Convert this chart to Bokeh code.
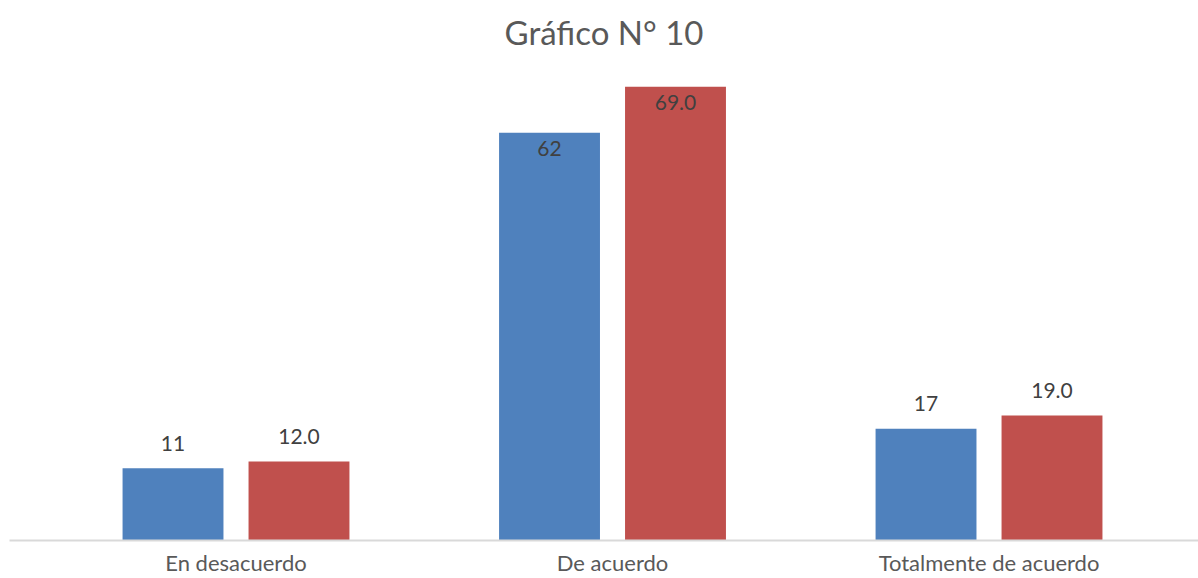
from bokeh.plotting import figure
from bokeh.models import ColumnDataSource, LabelSet, Range1d, FixedTicker
from bokeh.core.properties import value
from bokeh.embed import file_html
from bokeh.resources import INLINE

categories = ["En desacuerdo", "De acuerdo", "Totalmente de acuerdo"]
serie_azul = [11, 62, 17]
serie_roja = [12.0, 69.0, 19.0]
titulo = "Gráfico N° 10"

AZUL = "#4f81bd"
ROJO = "#c0504d"
FONT = "Lato"

xs = list(range(len(categories)))
offset = 0.1673
width = 0.268

p = figure(width=1198, height=578, output_backend="svg", toolbar_location=None,
           x_range=Range1d(-0.6016, 2.5564), y_range=Range1d(0, 73),
           min_border_left=9, min_border_right=0, min_border_bottom=38, min_border_top=0)
p.title.text = titulo
p.title.align = "center"
p.title.text_font = FONT
p.title.text_font_size = "33px"
p.title.text_font_style = "normal"
p.title.text_color = "#595959"
p.title.offset = 0
p.title.standoff = 18
p.title.text_line_height = 0.8

def lab_off(v):
    return -16 if v > 50 else 25

src_a = ColumnDataSource(dict(x=[x - offset for x in xs], top=serie_azul,
                              txt=[f"{v:.0f}" for v in serie_azul],
                              yo=[lab_off(v) for v in serie_azul]))
src_r = ColumnDataSource(dict(x=[x + offset for x in xs], top=serie_roja,
                              txt=[f"{v:.1f}" for v in serie_roja],
                              yo=[lab_off(v) for v in serie_roja]))

p.vbar(x="x", top="top", bottom=0, width=width, source=src_a, color=AZUL, line_color=None)
p.vbar(x="x", top="top", bottom=0, width=width, source=src_r, color=ROJO, line_color=None)

for s in (src_a, src_r):
    p.add_layout(LabelSet(x="x", y="top", text="txt", y_offset="yo", source=s,
                          text_align="center", text_baseline="middle",
                          text_font=value(FONT), text_font_size="21px", text_color="#404040"))

p.yaxis.visible = False
p.xgrid.visible = False
p.ygrid.visible = False
p.outline_line_color = None
ax = p.xaxis[0]
ax.ticker = FixedTicker(ticks=xs)
ax.major_label_overrides = {i: c for i, c in zip(xs, categories)}
ax.major_tick_line_color = None
ax.minor_tick_line_color = None
ax.axis_line_color = "#d9d9d9"
ax.axis_line_width = 2
ax.major_label_text_font = FONT
ax.major_label_text_font_size = "22px"
ax.major_label_text_color = "#595959"
ax.major_label_standoff = 2

open("out.html", "w").write(file_html(p, INLINE))
